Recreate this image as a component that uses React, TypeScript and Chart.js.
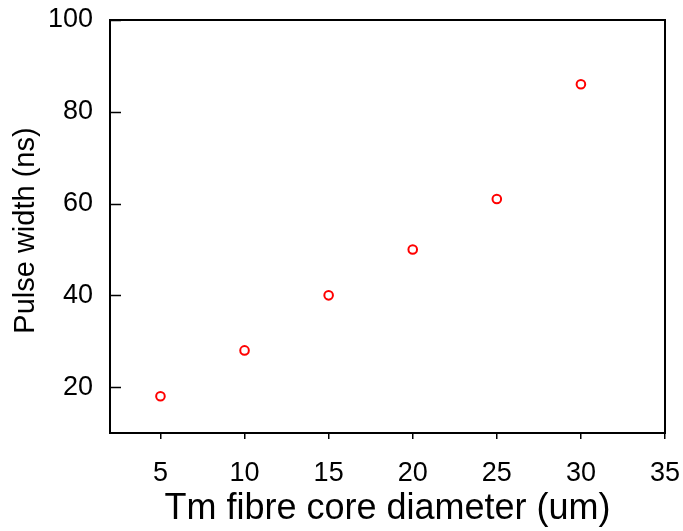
import React, { useEffect, useRef } from "react";
import { Chart, registerables } from "chart.js";

Chart.register(...registerables);

const coreDiameters = [5, 10, 15, 20, 25, 30];
const pulseWidths = [18, 28, 40, 50, 61, 86];
const yTickValues = [20, 40, 60, 80, 100];
const xTickValues = [5, 10, 15, 20, 25, 30, 35];

const FONT = "'Liberation Sans', Arial, sans-serif";

const framePlugin = {
  id: "frame",
  afterDraw(chart: any) {
    const { ctx, chartArea } = chart;
    const ys = chart.scales.y;
    ctx.save();
    ctx.strokeStyle = "#000";
    ctx.lineWidth = 2;
    ctx.strokeRect(chartArea.left, chartArea.top, chartArea.right - chartArea.left, chartArea.bottom - chartArea.top);
    ctx.lineWidth = 1.5;
    ctx.beginPath();
    for (const v of yTickValues) {
      const py = Math.round(ys.getPixelForValue(v)) + 0.5;
      ctx.moveTo(chartArea.left, py);
      ctx.lineTo(chartArea.left + 11, py);
    }
    ctx.stroke();
    ctx.restore();
  },
};

export default function App() {
  const ref = useRef<HTMLCanvasElement>(null);
  useEffect(() => {
    document.body.style.margin = "0";
    const chart = new Chart(ref.current!, {
      type: "scatter",
      data: {
        datasets: [
          {
            data: coreDiameters.map((x, i) => ({ x, y: pulseWidths[i] })),
            borderColor: "#ff0000",
            backgroundColor: "rgba(0,0,0,0)",
            pointRadius: 4.3,
            pointBorderWidth: 2,
            showLine: false,
          },
        ],
      },
      options: {
        animation: false,
        responsive: false,
        layout: { padding: { left: 0, right: 18, top: 20, bottom: 0 } },
        plugins: { legend: { display: false }, tooltip: { enabled: false } },
        scales: {
          x: {
            type: "linear",
            min: 2,
            max: 35,
            afterBuildTicks: (s: any) => {
              s.ticks = xTickValues.map((v) => ({ value: v }));
            },
            afterFit: (s: any) => {
              s.height = 98;
              s.paddingLeft = 0;
              s.paddingRight = 0;
            },
            grid: { drawOnChartArea: false, drawTicks: true, tickLength: 6, color: "#000", lineWidth: 1.5 },
            border: { display: false },
            ticks: { color: "#000", font: { family: FONT, size: 27 }, padding: 18, maxRotation: 0 },
            title: { display: true, text: "Tm fibre core diameter (um)", color: "#000", font: { family: FONT, size: 36 }, padding: { top: 0, bottom: 0 } },
          },
          y: {
            type: "linear",
            min: 10,
            max: 100,
            afterBuildTicks: (s: any) => {
              s.ticks = yTickValues.map((v) => ({ value: v }));
            },
            afterFit: (s: any) => {
              s.width = 110;
              s.paddingTop = 0;
              s.paddingBottom = 0;
            },
            grid: { drawOnChartArea: false, drawTicks: false, tickLength: 0 },
            border: { display: false },
            ticks: { color: "#000", font: { family: FONT, size: 27 }, padding: 17 },
            title: { display: true, text: "Pulse width (ns) ", color: "#000", font: { family: FONT, size: 29 }, padding: { top: 9, bottom: 0 } },
          },
        },
      },
      plugins: [framePlugin],
    });
    return () => chart.destroy();
  }, []);
  return <canvas ref={ref} width={683} height={531} style={{ display: "block" }} />;
}
